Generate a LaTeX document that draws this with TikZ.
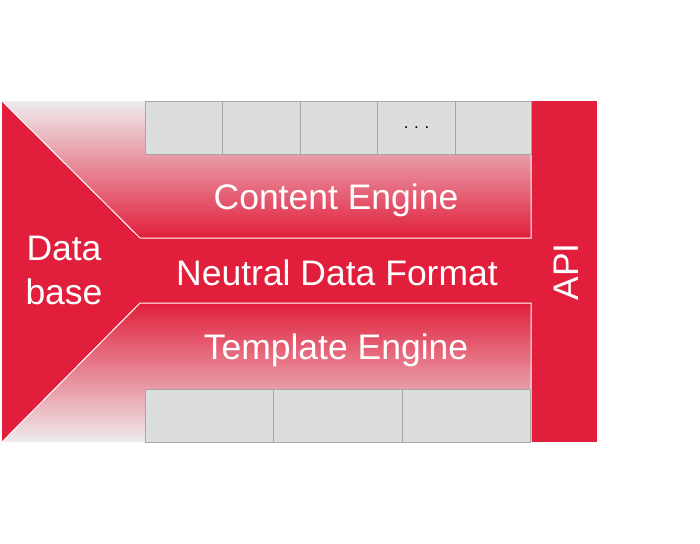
\documentclass[tikz,border=0pt]{standalone}
\usepackage{fontspec}
\setmainfont{Liberation Sans}
\definecolor{brand}{RGB}{225,31,60}
\definecolor{fade}{RGB}{238,236,237}
\definecolor{cellfill}{RGB}{220,221,223}
\definecolor{cellline}{RGB}{165,167,167}
\begin{document}
\begin{tikzpicture}[x=1pt,y=-1pt,
  cell/.style={draw=cellline, fill=cellfill, line width=1.2pt, minimum height=53pt, inner sep=0pt, anchor=north west},
  lbl/.style={text=white, font=\fontsize{35.5}{44}\selectfont, inner sep=0pt, anchor=base},
  sep/.style={draw=white, line width=1pt}]
\useasboundingbox (0,0) rectangle (700,543);
% red base
\fill[brand] (2,101) rectangle (597,442);
% gradients
\shade[top color=fade, bottom color=brand] (2,101) -- (531,101) -- (531,238) -- (140,238) -- cycle;
\shade[top color=brand, bottom color=fade] (140,303) -- (531,303) -- (531,442) -- (2,442) -- cycle;
% white separators
\draw[sep] (2,101) -- (140,238) -- (531,238) -- (531,101);
\draw[sep] (2,442) -- (140,303) -- (531,303) -- (531,442);
% top cells
\node[cell, minimum width=77pt] (t1) at (145,101) {};
\node[cell, minimum width=78pt] (t2) at (222,101) {};
\node[cell, minimum width=77pt] (t3) at (300,101) {};
\node[cell, minimum width=78pt] (t4) at (377,101) {\fontsize{17}{17}\selectfont\raisebox{1pt}{.\,\,.\,\,.}};
\node[cell, minimum width=76pt] (t5) at (455,101) {};
% bottom cells
\node[cell, minimum width=128pt] (b1) at (145,389) {};
\node[cell, minimum width=129pt] (b2) at (273,389) {};
\node[cell, minimum width=128pt] (b3) at (402,389) {};
% labels
\node[lbl] (content) at (336,209) {Content Engine};
\node[lbl] (neutral) at (337,285) {Neutral Data Format};
\node[lbl] (template) at (336,359) {Template Engine};
\node[lbl] (data) at (64,260) {Data};
\node[lbl] (base) at (64,304) {base};
\node[lbl, rotate=90] (api) at (578,272) {API};
\end{tikzpicture}
\end{document}
